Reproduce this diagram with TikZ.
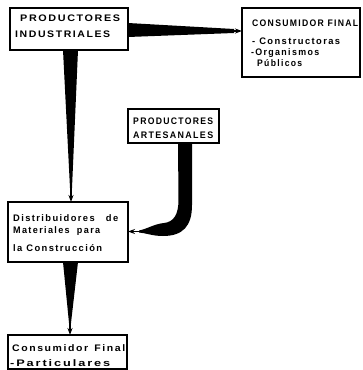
\documentclass[tikz,border=0pt]{standalone}
\usepackage{fontspec}
\usetikzlibrary{arrows.meta,calc}
% spaced-out bold sans lettering used for every label
\newfontfamily\lettering{Liberation Sans}[UprightFont={* Bold},LetterSpace=15]
% one line of lettering, stretched horizontally to a given width (in pt)
\newcommand\lline[2]{\resizebox{#1pt}{\height}{\lettering #2}}

\begin{document}
\begin{tikzpicture}[x=1pt,y=-1pt,
  box/.style={draw,line width=1.2pt,rectangle,inner sep=0pt,outer sep=0pt,anchor=north west},
  txt/.style={anchor=base west,inner sep=0pt,font=\fontsize{9.5}{11}\selectfont},
  wedge/.style={fill=black},
  tip/.style={-{Stealth[length=7pt,width=5pt]},line width=1.2pt}]
\useasboundingbox (0,0) rectangle (362,370);

% ---- boxes ----
\node[box,minimum width=118pt,minimum height=42pt] (pi) at (10,8) {};
\node[box,minimum width=118pt,minimum height=69pt] (cf) at (242,8) {};
\node[box,minimum width=91pt,minimum height=34pt]  (pa) at (128,109) {};
\node[box,minimum width=120pt,minimum height=60pt] (dm) at (8,202) {};
\node[box,minimum width=119pt,minimum height=34pt] (cp) at (8,335) {};

% ---- labels ----
\node[txt] (pi1) at (20,21.5) {\lline{100}{PRODUCTORES}};
\node[txt] (pi2) at (15,37.5) {\lline{95}{INDUSTRIALES}};

\node[txt] (cf1) at (252,26.5) {\lline{106}{CONSUMIDOR FINAL}};
\node[txt] (cf2) at (252,44.5) {\lline{88}{- Constructoras}};
\node[txt] (cf3) at (251,55)   {\lline{68}{-Organismos}};
\node[txt] (cf4) at (257,66.5) {\lline{45}{Públicos}};

\node[txt] (pa1) at (133,124.5) {\lline{80}{PRODUCTORES}};
\node[txt] (pa2) at (133,138)   {\lline{80}{ARTESANALES}};

\node[txt] (dm1) at (13,221.5) {\lline{105}{Distribuidores\hspace{1.2em}de}};
\node[txt] (dm2) at (13,233)   {\lline{87}{Materiales\hspace{0.8em}para}};
\node[txt] (dm3) at (13,251.5) {\lline{89}{la Construcción}};

\node[txt] (cp1) at (12,351.5) {\lline{113}{Consumidor\hspace{0.6em}Final}};
\node[txt] (cp2) at (10,366.5) {\lline{100}{-Particulares}};

% ---- tapered flows ----
% industrial producers -> final consumer (construction firms)
\fill[wedge] ($(pi.north east)+(0,15)$) -- ($(cf.north west)+(-8,21)$)
  -- ($(cf.north west)+(-8,25)$) -- ($(pi.north east)+(0,29)$) -- cycle;
\coordinate (a1) at ($(cf.north west)+(-10,23)$);
\draw[tip] (a1) -- ($(cf.north west)+(0,23)$);

% industrial producers -> distributors
\fill[wedge] ($(pi.south west)+(53,0)$) -- ($(pi.south west)+(68,0)$)
  -- ($(dm.north west)+(64,-14)$) -- ($(dm.north west)+(62,-14)$) -- cycle;
\coordinate (a2) at ($(dm.north west)+(63,-16)$);
\draw[tip] (a2) -- ($(dm.north west)+(63,0)$);

% craft producers -> distributors (bent flow)
\fill[wedge] (192,143) -- (192,205) .. controls (192,226) and (183,236) .. (163,236)
  .. controls (152,236) and (146,233) .. (139,232.5)
  -- (139,230.5) .. controls (147,229) and (154,224) .. (164,223)
  .. controls (174,222) and (178.5,214) .. (178.5,200) -- (178,143) -- cycle;
\coordinate (a3) at (142,231.5);
\draw[tip] (a3) -- (dm.east |- a3);

% distributors -> final consumer (private buyers)
\fill[wedge] ($(dm.south west)+(55,0)$) -- ($(dm.south west)+(70,0)$)
  -- ($(cp.north west)+(63,-12)$) -- ($(cp.north west)+(61,-12)$) -- cycle;
\coordinate (a4) at ($(cp.north west)+(62,-14)$);
\draw[tip] (a4) -- ($(cp.north west)+(62,0)$);
\end{tikzpicture}
\end{document}
